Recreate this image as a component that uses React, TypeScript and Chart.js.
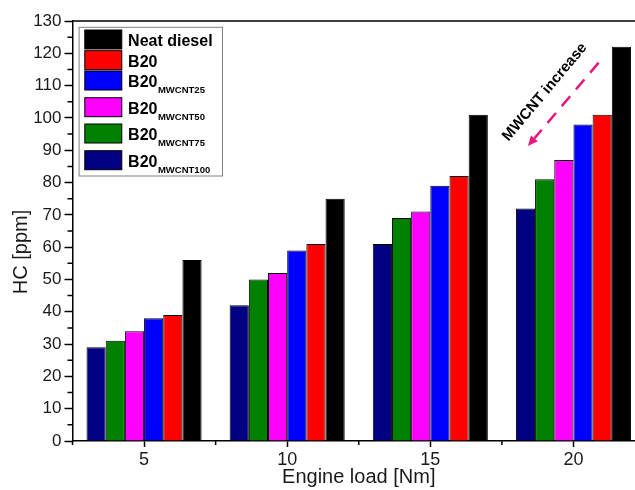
import React, { useEffect, useRef } from 'react';
import { Chart, registerables } from 'chart.js';

Chart.register(...registerables);

// ---- data ----
const loads = ['5', '10', '15', '20'];
const seriesNames = ['B20', 'B20', 'B20', 'B20', 'B20', 'Neat diesel'];
const seriesSubs = ['MWCNT100', 'MWCNT75', 'MWCNT50', 'MWCNT25', '', ''];
const mwcnt100 = [29, 42, 61, 72];
const mwcnt75 = [31, 50, 69, 81];
const mwcnt50 = [34, 52, 71, 87];
const mwcnt25 = [38, 59, 79, 98];
const b20 = [39, 61, 82, 101];
const neatDiesel = [56, 75, 101, 122];
const seriesValues = [mwcnt100, mwcnt75, mwcnt50, mwcnt25, b20, neatDiesel];
const seriesColors = ['#000080', '#008000', '#ff00ff', '#0000ff', '#ff0000', '#000000'];
const yMin = 0;
const yMax = 130;
const yStep = 10;
const xTitle = 'Engine load [Nm]';
const yTitle = 'HC [ppm]';
const annotationText = 'MWCNT increase';
// annotation anchor in data coordinates (category index, value)
const annotationCenter = [2.8, 108];
const arrowStart = [3.176, 117.1];
const arrowEnd = [2.682, 91.3];

const FONT = '"Liberation Sans", Arial, sans-serif';
const INK = '#1a1a1a';

const decorPlugin = {
  id: 'decor',
  afterDraw(chart: any) {
    const ctx = chart.ctx;
    const { left, right, top, bottom } = chart.chartArea;
    const xs = chart.scales.x;
    const ys = chart.scales.y;
    ctx.save();

    // frame (top + right)
    ctx.strokeStyle = '#000';
    ctx.lineWidth = 1.5;
    ctx.beginPath();
    ctx.moveTo(left, top);
    ctx.lineTo(right, top);
    ctx.lineTo(right, bottom);
    ctx.stroke();

    // minor ticks
    ctx.beginPath();
    for (let v = yMin + yStep / 2; v < yMax; v += yStep) {
      const y = ys.getPixelForValue(v);
      ctx.moveTo(left - 5, y);
      ctx.lineTo(left, y);
    }
    for (let i = 0; i <= loads.length; i++) {
      const x = xs.getPixelForValue(i - 0.5);
      ctx.moveTo(x, bottom);
      ctx.lineTo(x, bottom + 4);
    }
    ctx.stroke();

    // y title
    ctx.save();
    ctx.translate(21, 252);
    ctx.rotate(-Math.PI / 2);
    ctx.font = `20px ${FONT}`;
    ctx.fillStyle = INK;
    ctx.textAlign = 'center';
    ctx.textBaseline = 'middle';
    ctx.fillText(yTitle, 0, 0);
    ctx.restore();

    // legend
    const bx = left + 6.6;
    const by = top + 6.3;
    ctx.fillStyle = '#fff';
    ctx.fillRect(bx, by, 143.4, 148.7);
    ctx.strokeStyle = '#808080';
    ctx.lineWidth = 1;
    ctx.strokeRect(bx, by, 143.4, 148.7);
    const rowTops = [9, 29.7, 50, 76.7, 103, 129.7];
    const n = seriesNames.length;
    for (let k = 0; k < n; k++) {
      const d = n - 1 - k;
      const sx = left + 12.3;
      const sy = top + rowTops[k];
      ctx.fillStyle = seriesColors[d];
      ctx.fillRect(sx, sy, 37, 19);
      ctx.strokeStyle = '#000';
      ctx.lineWidth = 1;
      ctx.strokeRect(sx, sy, 37, 19);
      ctx.fillStyle = '#000';
      ctx.textAlign = 'left';
      ctx.textBaseline = 'alphabetic';
      ctx.font = `bold 16px ${FONT}`;
      const tx = left + 55.6;
      ctx.fillText(seriesNames[d], tx, sy + 16);
      if (seriesSubs[d]) {
        const w = ctx.measureText(seriesNames[d]).width;
        ctx.font = `bold 9.5px ${FONT}`;
        ctx.fillText(seriesSubs[d], tx + w + 0.5, sy + 22);
      }
    }

    // annotation text
    const cx = xs.getPixelForValue(annotationCenter[0]);
    const cy = ys.getPixelForValue(annotationCenter[1]);
    ctx.save();
    ctx.translate(cx, cy);
    ctx.rotate((-50 * Math.PI) / 180);
    ctx.font = `bold 15px ${FONT}`;
    ctx.fillStyle = '#000';
    ctx.textAlign = 'center';
    ctx.textBaseline = 'middle';
    ctx.fillText(annotationText, 0, 0);
    ctx.restore();

    // dashed arrow
    const x1 = xs.getPixelForValue(arrowStart[0]);
    const y1 = ys.getPixelForValue(arrowStart[1]);
    const x2 = xs.getPixelForValue(arrowEnd[0]);
    const y2 = ys.getPixelForValue(arrowEnd[1]);
    const ang = Math.atan2(y2 - y1, x2 - x1);
    const headLen = 10;
    const hx = x2 - headLen * Math.cos(ang);
    const hy = y2 - headLen * Math.sin(ang);
    ctx.strokeStyle = '#e8177d';
    ctx.fillStyle = '#e8177d';
    ctx.lineWidth = 2.5;
    ctx.setLineDash([13, 9]);
    ctx.beginPath();
    ctx.moveTo(x1, y1);
    ctx.lineTo(hx, hy);
    ctx.stroke();
    ctx.setLineDash([]);
    ctx.beginPath();
    ctx.moveTo(x2, y2);
    ctx.lineTo(hx + 4.5 * Math.sin(ang), hy - 4.5 * Math.cos(ang));
    ctx.lineTo(hx - 4.5 * Math.sin(ang), hy + 4.5 * Math.cos(ang));
    ctx.closePath();
    ctx.fill();

    ctx.restore();
  },
};

export default function App() {
  const canvasRef = useRef<HTMLCanvasElement | null>(null);

  useEffect(() => {
    if (!canvasRef.current) return;
    const chart = new Chart(canvasRef.current, {
      type: 'bar',
      data: {
        labels: loads,
        datasets: seriesValues.map((vals, i) => ({
          label: seriesNames[i] + (seriesSubs[i] ? ' ' + seriesSubs[i] : ''),
          data: vals,
          backgroundColor: seriesColors[i],
          borderColor: '#000',
          borderWidth: 1,
          categoryPercentage: 0.804,
          barPercentage: 1,
        })),
      },
      options: {
        animation: false,
        responsive: false,
        devicePixelRatio: 1,
        layout: { padding: { top: 21, left: 0, right: 0, bottom: 0 } },
        plugins: {
          legend: { display: false },
          tooltip: { enabled: false },
        },
        scales: {
          x: {
            offset: true,
            grid: {
              offset: false,
              drawOnChartArea: false,
              drawTicks: true,
              tickLength: 6,
              tickColor: '#000',
              tickWidth: 1.5,
            },
            border: { color: '#000', width: 1.5 },
            ticks: { color: INK, font: { family: FONT, size: 18 }, padding: 2, maxRotation: 0 },
            title: {
              display: true,
              text: xTitle,
              color: INK,
              font: { family: FONT, size: 20 },
              padding: { top: 0, bottom: 1 },
            },
            afterFit: (scale: any) => {
              scale.height = 49;
            },
          },
          y: {
            min: yMin,
            max: yMax,
            grid: {
              drawOnChartArea: false,
              drawTicks: true,
              tickLength: 8,
              tickColor: '#000',
              tickWidth: 1.5,
            },
            border: { color: '#000', width: 1.5 },
            ticks: { stepSize: yStep, color: INK, font: { family: FONT, size: 17 }, padding: 3 },
            afterFit: (scale: any) => {
              scale.width = 72.5;
            },
          },
        },
      },
      plugins: [decorPlugin],
    });
    return () => chart.destroy();
  }, []);

  return (
    <div style={{ position: 'fixed', left: 0, top: 0, width: 635, height: 490, overflow: 'hidden', background: '#fff' }}>
      <canvas ref={canvasRef} width={645} height={490} style={{ display: 'block' }} />
    </div>
  );
}
